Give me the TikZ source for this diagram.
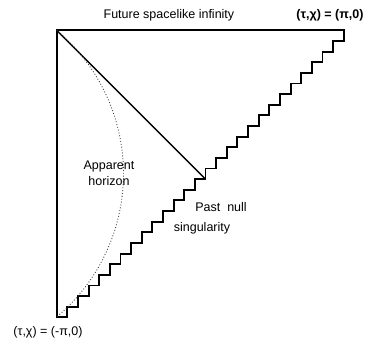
\documentclass[tikz,border=0pt]{standalone}
\usepackage{fontspec}
\setmainfont{Liberation Sans}
\usepackage{tikz}

\begin{document}
\begin{tikzpicture}[
        x=10.63pt, y=10.63pt,
        bound/.style={line width=1.9pt, line join=miter},
        nullline/.style={line width=1.5pt},
        horizon/.style={line width=0.9pt, dotted, black!75},
        lbl/.style={font=\fontsize{12.5}{15.5}\selectfont, inner sep=0pt, align=center}
    ]

    \useasboundingbox (-5.33,-2.79) rectangle (29.19,29.85);

    \coordinate (bl) at (0,0);
    \coordinate (tl) at (0,27);
    \coordinate (tr) at (27,27);
    \coordinate (mid) at (14,13);

    \draw[bound] (bl) -- (tl) -- (tr) \foreach \k in {1,...,26} { -- ++(0,-1) -- ++(-1,0) } -- ++(0,-1) -- cycle;
    \draw[nullline] (tl) -- (mid);
    \draw[horizon] (tl) arc[start angle=50, end angle=-50, radius=17.6];

    \node[lbl] (scri) at (10.56,28.44) {Future spacelike infinity};
    \node[lbl] (top) at (25.71,28.44) {\bfseries (τ,χ) = (π,0)};
    \node[lbl] (app) at (4.92,13.55) {Apparent\\horizon};
    \node[lbl] (past) at (15.46,10.38) {Past~ null};
    \node[lbl] (sing) at (13.67,8.4) {singularity};
    \node[lbl] (bot) at (-0.82,-1.4) {(τ,χ) = (-π,0)};

\end{tikzpicture}
\end{document}
